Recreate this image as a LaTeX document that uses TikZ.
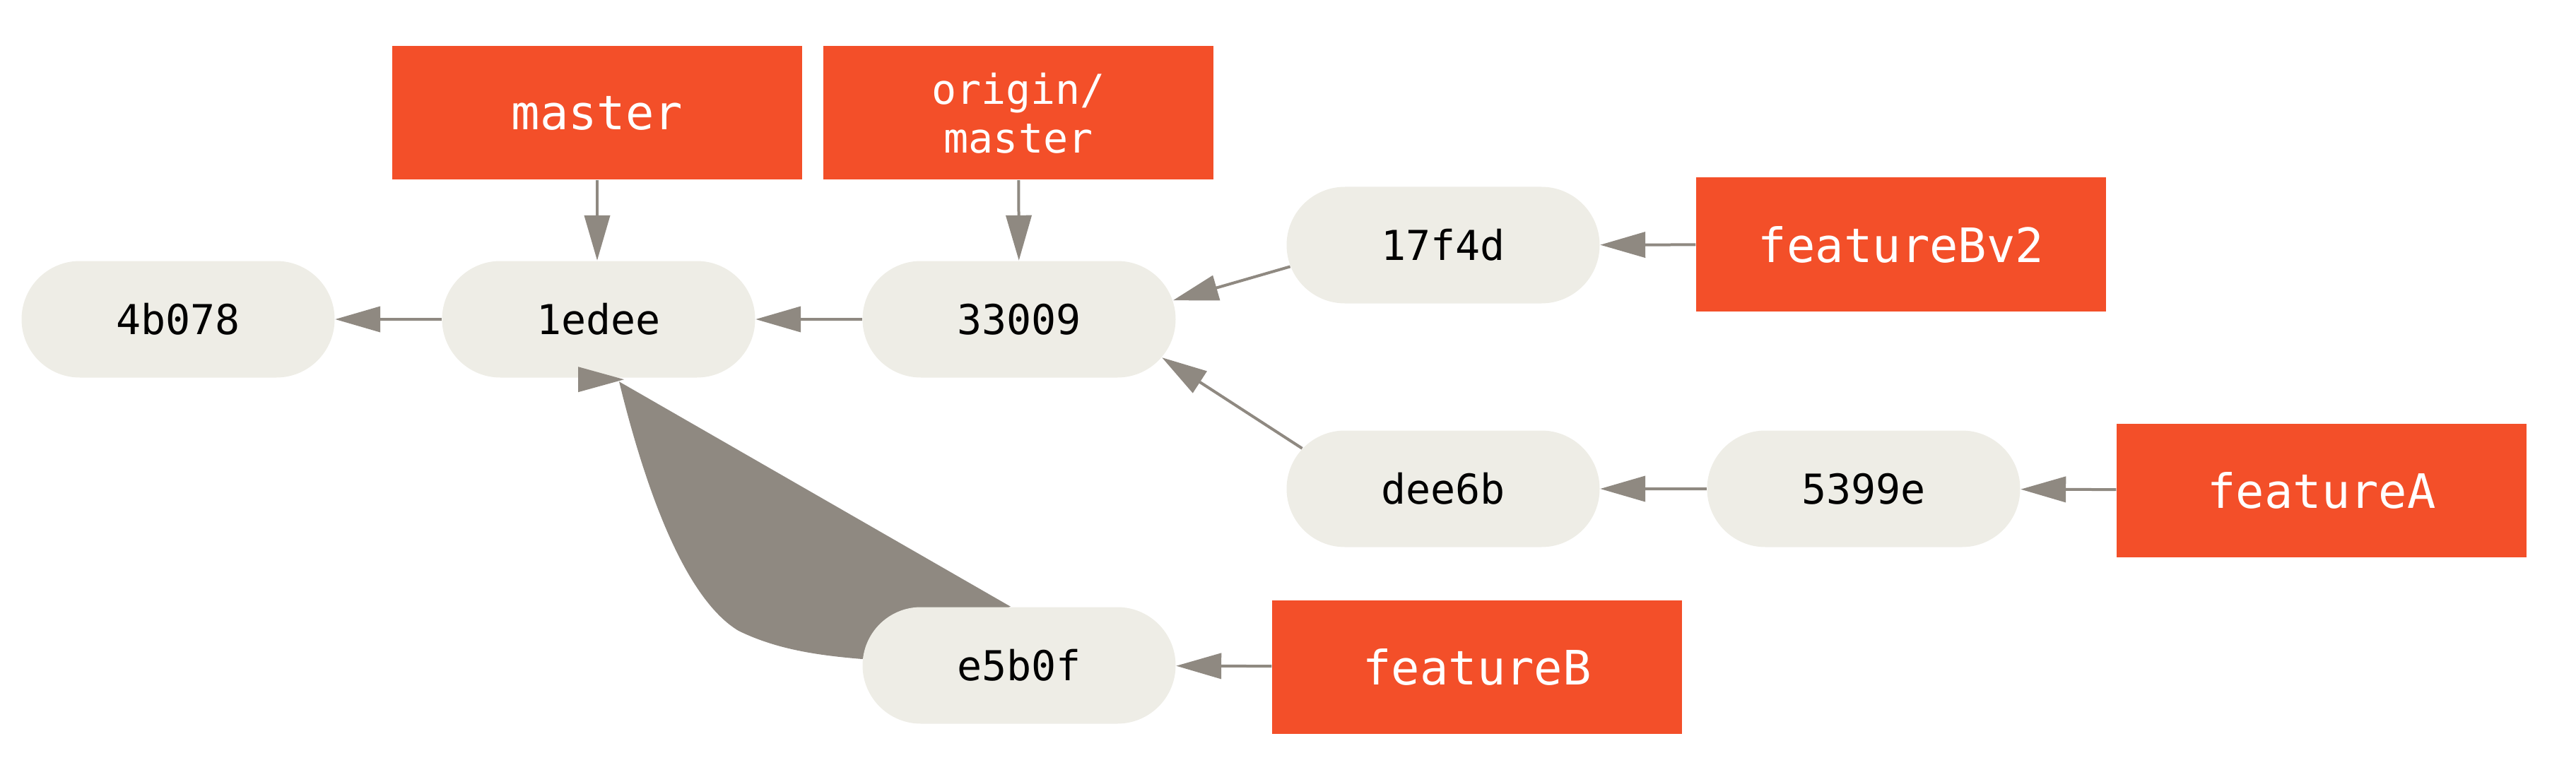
\documentclass[tikz,border=0pt]{standalone}
\usepackage{fontspec}
\setmonofont{DejaVu Sans Mono}
\usetikzlibrary{arrows.meta,shapes.misc}
\pgfdeclarelayer{background}
\pgfsetlayers{background,main}
\definecolor{gitorange}{HTML}{F34F29}
\definecolor{commitfill}{HTML}{EEEDE6}
\definecolor{edgegray}{HTML}{8F8981}

\begin{document}
\begin{tikzpicture}[
    commit/.style={rounded rectangle, fill=commitfill, minimum width=4.43cm, minimum height=1.65cm,
      inner sep=0pt, font=\ttfamily\fontsize{16.6}{20}\selectfont},
    branch/.style={rectangle, fill=gitorange, text=white, minimum width=5.8cm, minimum height=1.89cm,
      inner sep=0pt, font=\ttfamily\fontsize{19.1}{23}\selectfont},
    edge/.style={draw=edgegray, line width=0.04cm, -{Triangle[length=0.64cm,width=0.36cm]}}
  ]
  \useasboundingbox (0,0) rectangle (36.45,-11);

  \foreach \name/\x/\y in {4b078/2.52/-4.52, 1edee/8.47/-4.52, 33009/14.42/-4.52,
      17f4d/20.42/-3.47, dee6b/20.42/-6.92, 5399e/26.37/-6.92, e5b0f/14.42/-9.42}{
    \node[commit] (c\name) at (\x,\y) {\name};
  }

  \node[branch] (master) at (8.45,-1.60) {master};
  \node[branch, minimum width=5.52cm, align=center,
    font=\ttfamily\fontsize{16.6}{19.6}\selectfont] (origin) at (14.41,-1.60) {origin/\\master};
  \node[branch] (featureBv2) at (26.90,-3.46) {featureBv2};
  \node[branch] (featureA) at (32.85,-6.94) {featureA};
  \node[branch] (featureB) at (20.90,-9.44) {featureB};

  \draw[edge] (c1edee) -- (c4b078);
  \draw[edge] (c33009) -- (c1edee);
  \draw[edge] (master.south) -- (master.south |- c1edee.north);
  \draw[edge] (origin) -- (c33009);
  \draw[edge] (c17f4d.188) -- (c33009.7);
  \draw[edge] (cdee6b.164) -- (c33009.345);
  \draw[edge] (featureBv2) -- (c17f4d);
  \draw[edge] (c5399e) -- (cdee6b);
  \draw[edge] (featureA) -- (c5399e);
  \draw[edge] (featureB) -- (ce5b0f);

  % e5b0f -> 1edee
  \begin{pgfonlayer}{background}
    \fill[edgegray] ([xshift=-0.12cm]ce5b0f.north) -- ([shift={(0.29,-0.05)}]c1edee.south)
      .. controls (9.30,-7.60) and (9.90,-8.60) .. (10.45,-8.93)
      .. controls (11.00,-9.20) and (11.60,-9.28) .. ([yshift=0.09cm]ce5b0f.west) -- cycle;
  \end{pgfonlayer}
  \fill[edgegray] ([shift={(-0.29,0.16)}]c1edee.south) -- ([shift={(-0.29,-0.20)}]c1edee.south)
    -- ([shift={(0.36,-0.02)}]c1edee.south) -- cycle;
\end{tikzpicture}
\end{document}
